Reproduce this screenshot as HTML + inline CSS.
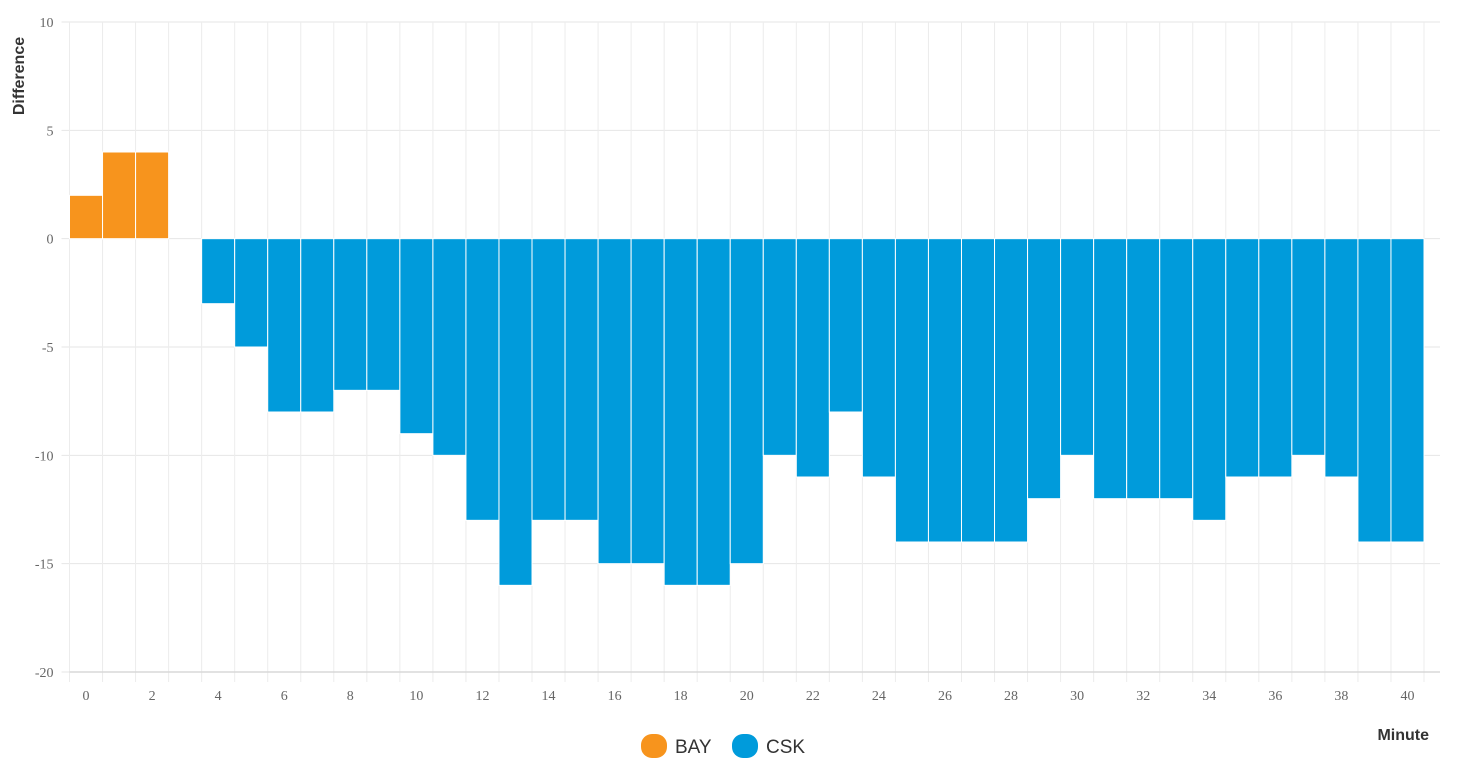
<!DOCTYPE html>
<html><head><meta charset="utf-8"><style>
body{margin:0;background:#fff;}
svg{display:block;}
</style></head><body>
<svg id="chart" width="1460" height="774" xmlns="http://www.w3.org/2000/svg">
<g id="grid"></g>
<g id="bars"></g>
<g id="axes"></g>
<text x="24" y="76" transform="rotate(-90 24 76)" text-anchor="middle" font-family="Liberation Sans, sans-serif" font-size="16" font-weight="bold" fill="#333">Difference</text>
<text x="1429" y="740" text-anchor="end" font-family="Liberation Sans, sans-serif" font-size="16" font-weight="bold" fill="#333">Minute</text>
<g>
<g><rect x="641" y="734" width="26" height="24" rx="11" fill="#F7941D"/><text x="675" y="753" font-family="Liberation Sans, sans-serif" font-size="19" fill="#333">BAY</text></g>
<g><rect x="732" y="734" width="26" height="24" rx="11" fill="#009BDB"/><text x="766" y="753" font-family="Liberation Sans, sans-serif" font-size="19" fill="#333">CSK</text></g>
</g>
</svg>
<script>
const minutes = [0,1,2,3,4,5,6,7,8,9,10,11,12,13,14,15,16,17,18,19,20,21,22,23,24,25,26,27,28,29,30,31,32,33,34,35,36,37,38,39,40];
const diffValues = [2,4,4,0,-3,-5,-8,-8,-7,-7,-9,-10,-13,-16,-13,-13,-15,-15,-16,-16,-15,-10,-11,-8,-11,-14,-14,-14,-14,-12,-10,-12,-12,-12,-13,-11,-11,-10,-11,-14,-14];
const yTicks = [10,5,0,-5,-10,-15,-20];
const xTickLabels = [0,2,4,6,8,10,12,14,16,18,20,22,24,26,28,30,32,34,36,38,40];

const NS='http://www.w3.org/2000/svg';
const L=69.5, R=1424, AXR=1440, T=22, B=672, yMax=10, yMin=-20;
const bw=(R-L)/minutes.length;
function x(i){return L+i*bw;}
function y(v){return T+(yMax-v)/(yMax-yMin)*(B-T);}
function mk(tag,attrs,parent){const e=document.createElementNS(NS,tag);for(const k in attrs)e.setAttribute(k,attrs[k]);parent.appendChild(e);return e;}
const grid=document.getElementById('grid'), bars=document.getElementById('bars'), axes=document.getElementById('axes');
yTicks.forEach(t=>{
  const ln=mk('line',{x1:L-8,x2:AXR,y1:y(t),y2:y(t),stroke:'#e6e6e6','stroke-width':1},grid);
  
  
  const tx=mk('text',{x:L-16,y:y(t)+5,'text-anchor':'end','font-family':'Liberation Serif, serif','font-size':14,fill:'#666'},axes);
  tx.textContent=t;
  
  
});
for(let i=0;i<=minutes.length;i++){
  const ln=mk('line',{x1:x(i),x2:x(i),y1:T,y2:B+10,stroke:'#ececec','stroke-width':1},grid);
  
  
}
minutes.forEach((m,i)=>{
  const v=diffValues[i]; if(v===0) return;
  const y0=y(0), y1=y(v);
  const r=mk('rect',{x:x(i),y:Math.min(y0,y1),width:bw,height:Math.abs(y1-y0),fill:v>0?'#F7941D':'#009BDB',stroke:'#fff','stroke-width':1},bars);
  
  
});
const ax=mk('line',{x1:L,x2:AXR,y1:B,y2:B,stroke:'#d8d8d8','stroke-width':1.5},axes);


xTickLabels.forEach(m=>{
  const i=minutes.indexOf(m);
  const tx=mk('text',{x:x(i)+bw/2,y:B+28,'text-anchor':'middle','font-family':'Liberation Serif, serif','font-size':14,fill:'#666'},axes);
  tx.textContent=m;
  
  
});
</script>
</body></html>
